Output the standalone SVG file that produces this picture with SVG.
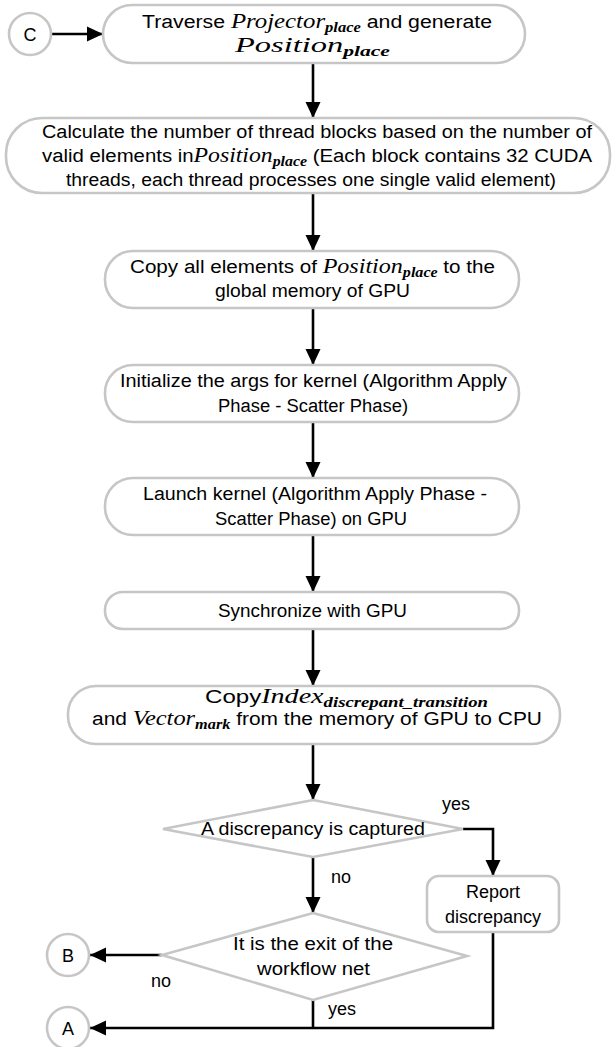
<svg xmlns="http://www.w3.org/2000/svg" width="613" height="1047" viewBox="0 0 613 1047">
  <style>
    .box { fill: #ffffff; stroke: #c6c6c6; stroke-width: 2.6; }
    .t { font-family: "Liberation Sans", Arial, sans-serif; font-size: 18px; fill: #000; }
    .m { font-family: "Liberation Serif", "Times New Roman", serif; font-style: italic; font-size: 21px; }
    .s { font-family: "Liberation Serif", "Times New Roman", serif; font-style: italic; font-weight: bold; font-size: 14px; }
    .line { fill: none; stroke: #000; stroke-width: 2.6; }
  </style>
  <defs>
    <marker id="arrow" viewBox="0 0 16 16" refX="16" refY="8" markerWidth="16" markerHeight="16" orient="auto" markerUnits="userSpaceOnUse">
      <path d="M0,0.5 L16,8 L0,15.5 z" fill="#000"/>
    </marker>
  </defs>
  <rect width="613" height="1047" fill="#ffffff"/>

  <!-- connectors -->
  <g id="connectors">
    <line class="line" x1="52" y1="34" x2="103" y2="34" marker-end="url(#arrow)"/>
    <line class="line" x1="313" y1="63" x2="313" y2="118" marker-end="url(#arrow)"/>
    <line class="line" x1="313" y1="193" x2="313" y2="251" marker-end="url(#arrow)"/>
    <line class="line" x1="313" y1="308" x2="313" y2="365" marker-end="url(#arrow)"/>
    <line class="line" x1="313" y1="422" x2="313" y2="478" marker-end="url(#arrow)"/>
    <line class="line" x1="313" y1="535" x2="313" y2="592" marker-end="url(#arrow)"/>
    <line class="line" x1="313" y1="629" x2="313" y2="686" marker-end="url(#arrow)"/>
    <line class="line" x1="313" y1="744" x2="313" y2="800" marker-end="url(#arrow)"/>
    <polyline class="line" points="463,829 493,829 493,876" marker-end="url(#arrow)"/>
    <line class="line" x1="313" y1="857" x2="313" y2="913" marker-end="url(#arrow)"/>
    <line class="line" x1="162" y1="955" x2="90" y2="955" marker-end="url(#arrow)"/>
    <polyline class="line" points="493,932 493,1028 90,1028" marker-end="url(#arrow)"/>
    <line class="line" x1="313" y1="1000" x2="313" y2="1028"/>
  </g>

  <g id="nodeC">
    <circle class="box" cx="30" cy="34" r="21"/>
    <text class="t" x="30" y="40.5" text-anchor="middle">C</text>
  </g>

  <g id="traverse">
    <rect class="box" x="103" y="5" width="422" height="58" rx="29"/>
    <text class="t" x="142" y="28" textLength="350" lengthAdjust="spacingAndGlyphs">Traverse <tspan class="m">Projector</tspan><tspan class="s" dy="4">place</tspan><tspan dy="-4"> and generate</tspan></text>
    <text class="t" x="235" y="52" textLength="155" lengthAdjust="spacingAndGlyphs"><tspan class="m">Position</tspan><tspan class="s" dy="4">place</tspan></text>
  </g>

  <g id="calc">
    <rect class="box" x="6" y="118" width="604" height="75" rx="36"/>
    <text class="t" x="42" y="138" textLength="550" lengthAdjust="spacingAndGlyphs">Calculate the number of thread blocks based on the number of</text>
    <text class="t" x="42" y="162" textLength="550" lengthAdjust="spacingAndGlyphs">valid elements in<tspan class="m">Position</tspan><tspan class="s" dy="4">place</tspan><tspan dy="-4"> (Each block contains 32 CUDA</tspan></text>
    <text class="t" x="66" y="186" textLength="490" lengthAdjust="spacingAndGlyphs">threads, each thread processes one single valid element)</text>
  </g>

  <g id="copyAll">
    <rect class="box" x="105" y="251" width="414" height="57" rx="28"/>
    <text class="t" x="130" y="273" textLength="365" lengthAdjust="spacingAndGlyphs">Copy all elements of <tspan class="m">Position</tspan><tspan class="s" dy="4">place</tspan><tspan dy="-4"> to the</tspan></text>
    <text class="t" x="215" y="297" textLength="195" lengthAdjust="spacingAndGlyphs">global memory of GPU</text>
  </g>

  <g id="initArgs">
    <rect class="box" x="105" y="365" width="414" height="57" rx="28"/>
    <text class="t" x="120" y="387" textLength="387" lengthAdjust="spacingAndGlyphs">Initialize the args for kernel (Algorithm Apply</text>
    <text class="t" x="218" y="412" textLength="190" lengthAdjust="spacingAndGlyphs">Phase - Scatter Phase)</text>
  </g>

  <g id="launch">
    <rect class="box" x="105" y="478" width="414" height="57" rx="28"/>
    <text class="t" x="143" y="500" textLength="344" lengthAdjust="spacingAndGlyphs">Launch kernel (Algorithm Apply Phase -</text>
    <text class="t" x="215" y="525" textLength="192" lengthAdjust="spacingAndGlyphs">Scatter Phase) on GPU</text>
  </g>

  <g id="sync">
    <rect class="box" x="105" y="592" width="414" height="37" rx="18"/>
    <text class="t" x="218" y="617" textLength="189" lengthAdjust="spacingAndGlyphs">Synchronize with GPU</text>
  </g>

  <g id="copyBack">
    <rect class="box" x="68" y="686" width="492" height="58" rx="28"/>
    <text class="t" x="205" y="703" textLength="283" lengthAdjust="spacingAndGlyphs">Copy<tspan class="m">Index</tspan><tspan class="s" dy="4">discrepant_transition</tspan></text>
    <text class="t" x="92" y="725" textLength="450" lengthAdjust="spacingAndGlyphs">and <tspan class="m">Vector</tspan><tspan class="s" dy="4">mark</tspan><tspan dy="-4"> from the  memory of GPU to CPU</tspan></text>
  </g>

  <g id="captured">
    <polygon class="box" points="313,800 463,829 313,857 163,829"/>
    <text class="t" x="201" y="835" textLength="224" lengthAdjust="spacingAndGlyphs">A  discrepancy is captured</text>
  </g>

  <g id="report">
    <rect class="box" x="427" y="876" width="132" height="56" rx="12"/>
    <text class="t" x="493" y="898" text-anchor="middle">Report</text>
    <text class="t" x="493" y="923" text-anchor="middle">discrepancy</text>
  </g>

  <g id="exit">
    <polygon class="box" points="313,913 467,956 313,1000 162,955"/>
    <text class="t" x="233" y="950" textLength="160" lengthAdjust="spacingAndGlyphs">It is the exit  of the</text>
    <text class="t" x="257" y="975" textLength="113" lengthAdjust="spacingAndGlyphs">workflow net</text>
  </g>

  <g id="nodeB">
    <circle class="box" cx="68" cy="955" r="21"/>
    <text class="t" x="68" y="961.5" text-anchor="middle">B</text>
  </g>

  <g id="nodeA">
    <circle class="box" cx="68" cy="1028" r="21"/>
    <text class="t" x="68" y="1034.5" text-anchor="middle">A</text>
  </g>

  <g id="labels">
    <text class="t" x="456" y="810" text-anchor="middle">yes</text>
    <text class="t" x="341" y="883" text-anchor="middle">no</text>
    <text class="t" x="161" y="987" text-anchor="middle">no</text>
    <text class="t" x="342" y="1015" text-anchor="middle">yes</text>
  </g>
</svg>
